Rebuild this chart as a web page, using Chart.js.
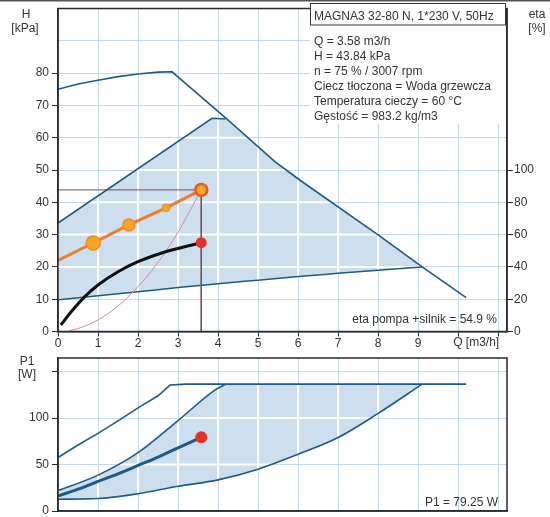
<!DOCTYPE html>
<html><head><meta charset="utf-8">
<script src="https://cdn.jsdelivr.net/npm/chart.js@4"></script>
<style>
html,body{margin:0;padding:0;background:#fff;}
#wrap{position:relative;width:550px;height:517px;overflow:hidden;background:#fff;}
#c1{position:absolute;left:0;top:0;}
#c2{position:absolute;left:0;top:352px;}
</style></head><body>
<div id="wrap"><canvas id="c1" width="550" height="352"></canvas><canvas id="c2" width="550" height="165"></canvas></div>
<script>
// ---------- DATA ----------
// Top chart: head H [kPa] versus flow Q [m3/h]
const hMaxQ   = [0, 0.5, 1, 1.5, 2, 2.5, 2.85, 4.18, 5.42, 6.04, 8, 9.1, 10.2];
const hMaxH   = [75, 76.6, 77.8, 78.9, 79.7, 80.3, 80.4, 66.2, 52.6, 46.9, 29.9, 20, 10.5];
const hMinQ   = [0, 1, 2, 3, 4, 5, 6, 7, 8, 9.1];
const hMinH   = [9.8, 11.1, 12.3, 13.6, 14.8, 15.9, 17, 18, 19, 20];
const hAreaQ  = [0, 3.85, 4.18, 5.42, 6.04, 8, 9.1];
const hAreaH  = [33.6, 66, 65.8, 52.6, 46.9, 29.9, 20];
const hLeftQ  = [0, 3.85, 4.18];
const hLeftH  = [33.6, 66, 65.8];
const etaQ    = [0, 0.88, 1.77, 2.7, 3.58];
const etaH    = [22, 27.4, 33, 38.3, 43.84];
const curveQ  = [0.07, 0.33, 0.67, 1, 1.5, 2, 2.67, 3, 3.42, 3.58];
const curveH  = [2.0, 6.1, 10.8, 14.4, 18.5, 21.6, 24.6, 25.7, 27.0, 27.4];
const sysQ    = [0.27, 0.5, 1, 1.5, 2, 2.5, 3, 3.58];
const sysH    = [0.2, 0.9, 3.6, 7.9, 13.9, 21.4, 30.8, 43.84];
const dutyQ   = [0, 3.58, 3.58];
const dutyH   = [43.84, 43.84, 0];
const pointQ  = [3.58];
const pointH  = [27.5];
// Bottom chart: power P1 [W] versus flow Q [m3/h]
const pMaxQ   = [0, 0.5, 1, 1.5, 2, 2.5, 2.8, 3.2, 10.2];
const pMaxP   = [57.6, 71, 83.5, 97, 111, 124, 135.5, 136.5, 136.5];
const pSecQ   = [0, 1, 2, 3, 3.92, 4.2];
const pSecP   = [22, 38.6, 62.8, 97.3, 130, 136.5];
const pAreaQ  = [0, 1, 2, 3, 3.92, 4.2, 9.1];
const pAreaP  = [22, 38.6, 62.8, 97.3, 130, 136.5, 136.5];
const pMinQ   = [0, 1, 2, 3, 4, 5, 6, 7, 8, 9.1];
const pMinP   = [12.7, 13.4, 18.6, 26.6, 33.5, 45, 61, 79, 105, 136.5];
const pCurQ   = [0, 0.5, 1, 1.5, 2, 2.5, 3, 3.58];
const pCurP   = [16.2, 23.5, 31.8, 40, 49, 58, 68, 79.25];
const pPointQ = [3.58];
const pPointP = [79.25];
// Tick labels
const xTickLabels   = ['0','1','2','3','4','5','6','7','8','9'];
const xAxisName     = 'Q [m3/h]';
const hTickLabels   = ['0','10','20','30','40','50','60','70','80'];
const etaTickLabels = ['0','20','40','60','80','100'];
const pTickLabels   = ['0','50','100'];
// Texts
const infoTitle = 'MAGNA3 32-80 N, 1*230 V, 50Hz';
const infoLines = ['Q = 3.58 m3/h','H = 43.84 kPa','n = 75 % / 3007 rpm','Ciecz tłoczona = Woda grzewcza','Temperatura cieczy = 60 °C','Gęstość = 983.2 kg/m3'];
const etaNote = 'eta pompa +silnik = 54.9 %';
const p1Note  = 'P1 = 79.25 W';

// ---------- STYLE ----------
const FONT = '"Liberation Sans", Arial, sans-serif';
const DARK = '#1e5a87';
const SHADE = '#cddfee';
const GRID = '#c3daec';
const TXT = '#333333';
const AX = '#2b2b2b';
const zip = (xs, ys) => xs.map((x, i) => ({x, y: ys[i]}));

Chart.defaults.font.family = FONT;
Chart.defaults.font.size = 12;
Chart.defaults.color = TXT;

const whiteGrid = {
  id: 'whiteGrid',
  afterDatasetDraw(chart, args, opts) {
    if (!opts || opts.shade === undefined || args.index !== opts.shade) return;
    const top = chart.getDatasetMeta(opts.shade).data;
    const base = chart.getDatasetMeta(opts.base).data;
    const ctx = chart.ctx, ca = chart.chartArea;
    ctx.save();
    ctx.beginPath();
    top.forEach((p, i) => i ? ctx.lineTo(p.x, p.y) : ctx.moveTo(p.x, p.y));
    for (let i = base.length - 1; i >= 0; i--) ctx.lineTo(base[i].x, base[i].y);
    ctx.closePath();
    ctx.clip();
    ctx.strokeStyle = '#ffffff';
    ctx.lineWidth = 2;
    const xs = chart.scales.x, ys = chart.scales.y;
    xs.ticks.forEach(t => { const px = xs.getPixelForValue(t.value); ctx.beginPath(); ctx.moveTo(px, ca.top); ctx.lineTo(px, ca.bottom); ctx.stroke(); });
    ys.ticks.forEach(t => { const py = ys.getPixelForValue(t.value); ctx.beginPath(); ctx.moveTo(ca.left, py); ctx.lineTo(ca.right, py); ctx.stroke(); });
    ctx.restore();
  }
};
Chart.register(whiteGrid);

function lineDs(data, color, width, order, extra) {
  return Object.assign({data, borderColor: color, borderWidth: width, pointRadius: 0, fill: false, order, tension: 0}, extra || {});
}
function zeroPad(s) { s.paddingTop = 0; s.paddingBottom = 0; s.paddingLeft = 0; s.paddingRight = 0; }

// ---------- TOP CHART ----------
const topText = {
  id: 'topText',
  beforeDatasetsDraw(chart) {
    const ctx = chart.ctx, ca = chart.chartArea;
    ctx.save();
    ctx.fillStyle = '#fff';
    ctx.fillRect(310, ca.top, ca.right - 311, 124 - ca.top);
    ctx.restore();
  },
  afterDraw(chart) {
    const ctx = chart.ctx, ca = chart.chartArea;
    ctx.save();
    // frame
    ctx.strokeStyle = AX; ctx.lineWidth = 1.5;
    ctx.strokeRect(ca.left, ca.top, ca.right - ca.left, ca.bottom - ca.top);
    ctx.strokeStyle = '#555'; ctx.lineWidth = 1.5;
    ctx.beginPath(); ctx.moveTo(0, 0.75); ctx.lineTo(550, 0.75); ctx.stroke();
    // info box
    ctx.fillStyle = '#fff'; ctx.fillRect(310, 3, 195, 22);
    ctx.strokeStyle = '#333'; ctx.lineWidth = 1;
    ctx.strokeRect(310.5, 3.5, 195, 21.5);
    ctx.fillStyle = TXT;
    ctx.font = '12px ' + FONT;
    ctx.textBaseline = 'middle'; ctx.textAlign = 'left';
    ctx.fillText(infoTitle, 314, 17);
    const ly = [42, 57, 72, 87, 102, 117];
    infoLines.forEach((t, i) => ctx.fillText(t, 314, ly[i]));
    // axis titles
    ctx.textAlign = 'center';
    ctx.fillText('H', 26, 15); ctx.fillText('[kPa]', 25, 29);
    ctx.fillText('eta', 537, 15); ctx.fillText('[%]', 537, 29);
    // x name
    const xs = chart.scales.x;
    ctx.textAlign = 'left';
    ctx.fillText(xAxisName, xs.getPixelForValue(10) - 5, 343);
    // eta note
    ctx.textAlign = 'right';
    ctx.fillText(etaNote, 497, 320);
    ctx.restore();
  }
};

new Chart(document.getElementById('c1'), {
  type: 'line',
  data: { datasets: [
    lineDs(zip(hMinQ, hMinH), DARK, 1.5, 9, {cubicInterpolationMode: 'monotone'}),
    lineDs(zip(hAreaQ, hAreaH), 'rgba(0,0,0,0)', 0, 10, {fill: 0, backgroundColor: SHADE}),
    lineDs(zip(hMaxQ, hMaxH), DARK, 1.6, 8),
    lineDs(zip(hLeftQ, hLeftH), DARK, 1.6, 8),
    lineDs(zip(sysQ, sysH), '#d48a9c', 1, 7, {cubicInterpolationMode: 'monotone'}),
    lineDs(zip(dutyQ, dutyH), '#6e4f55', 1, 6),
    lineDs(zip(curveQ, curveH), '#111111', 3, 5, {cubicInterpolationMode: 'monotone'}),
    lineDs(zip(etaQ, etaH), '#ef7b2c', 3, 4, {
      pointRadius: [0, 7, 6, 4, 6], pointBackgroundColor: '#f6a623',
      pointBorderColor: ['#ef7b2c','#ef8a2c','#ef8a2c','#ef8a2c','#e8562a'], pointBorderWidth: [1,1.5,1.5,1,2.5]}),
    lineDs(zip(pointQ, pointH), '#e8302a', 0, 3, {pointRadius: 5.5, pointBackgroundColor: '#e8302a', pointBorderWidth: 0, showLine: false})
  ]},
  options: {
    responsive: false, animation: false, events: [],
    layout: { padding: { top: 8.5, left: 0, right: 0, bottom: 0 } },
    plugins: { legend: {display: false}, tooltip: {enabled: false}, whiteGrid: {shade: 1, base: 0} },
    scales: {
      x: { type: 'linear', min: 0, max: 11.22,
        ticks: { stepSize: 1, includeBounds: false, padding: 0, color: TXT, font: {size: 12},
          callback: v => (v < xTickLabels.length ? xTickLabels[v] : '') },
        grid: { color: GRID, lineWidth: 1, tickLength: 5, tickColor: AX },
        border: { color: AX, width: 1.5 },
        afterFit: s => { s.height = 20.5; zeroPad(s); } },
      y: { type: 'linear', position: 'left', min: 0, max: 100,
        ticks: { stepSize: 10, includeBounds: false, padding: 3, color: TXT, font: {size: 12},
          callback: v => (hTickLabels.includes(String(v)) ? String(v) : '') },
        grid: { color: GRID, lineWidth: 1, tickLength: 6,
          tickColor: c => (c.tick && c.tick.value > 80 ? 'rgba(0,0,0,0)' : AX) },
        border: { color: AX, width: 1.5 },
        afterFit: s => { s.width = 58; zeroPad(s); } },
      eta: { type: 'linear', position: 'right', min: 0, max: 200,
        ticks: { stepSize: 20, includeBounds: false, padding: 1, color: TXT, font: {size: 12},
          callback: v => (etaTickLabels.includes(String(v)) ? String(v) : '') },
        grid: { drawOnChartArea: false, tickLength: 6,
          tickColor: c => (c.tick && c.tick.value > 100 ? 'rgba(0,0,0,0)' : AX) },
        border: { color: AX, width: 1.5 },
        afterFit: s => { s.width = 43; zeroPad(s); } }
    }
  },
  plugins: [topText]
});

// ---------- BOTTOM CHART ----------
const botText = {
  id: 'botText',
  afterDraw(chart) {
    const ctx = chart.ctx, ca = chart.chartArea;
    ctx.save();
    ctx.strokeStyle = AX; ctx.lineWidth = 1.5;
    ctx.strokeRect(ca.left, ca.top, ca.right - ca.left, ca.bottom - ca.top);
    ctx.fillStyle = TXT; ctx.font = '12px ' + FONT;
    ctx.textBaseline = 'middle'; ctx.textAlign = 'center';
    ctx.fillText('P1', 27, 10); ctx.fillText('[W]', 27, 23);
    ctx.textAlign = 'right';
    ctx.fillText(p1Note, 498, 151);
    ctx.restore();
  }
};

new Chart(document.getElementById('c2'), {
  type: 'line',
  data: { datasets: [
    lineDs(zip(pMinQ, pMinP), DARK, 1.6, 9, {cubicInterpolationMode: 'monotone'}),
    lineDs(zip(pAreaQ, pAreaP), 'rgba(0,0,0,0)', 0, 10, {fill: 0, backgroundColor: SHADE, cubicInterpolationMode: 'monotone'}),
    lineDs(zip(pMaxQ, pMaxP), DARK, 1.6, 8),
    lineDs(zip(pSecQ, pSecP), DARK, 1.6, 8, {cubicInterpolationMode: 'monotone'}),
    lineDs(zip(pCurQ, pCurP), DARK, 3, 5, {cubicInterpolationMode: 'monotone'}),
    lineDs(zip(pPointQ, pPointP), '#e8302a', 0, 3, {pointRadius: 6, pointBackgroundColor: '#e8302a', pointBorderWidth: 0, showLine: false})
  ]},
  options: {
    responsive: false, animation: false, events: [],
    layout: { padding: { top: 3, left: 0, right: 43, bottom: 0 } },
    plugins: { legend: {display: false}, tooltip: {enabled: false}, whiteGrid: {shade: 1, base: 0} },
    scales: {
      x: { type: 'linear', min: 0, max: 11.22,
        ticks: { stepSize: 1, includeBounds: false, display: false },
        grid: { color: GRID, lineWidth: 1, drawTicks: false },
        border: { color: AX, width: 1.5 },
        afterFit: s => { s.height = 3; zeroPad(s); } },
      y: { type: 'linear', position: 'left', min: 0, max: 164.6,
        ticks: { stepSize: 50, includeBounds: false, padding: 3, color: TXT, font: {size: 12},
          callback: v => (pTickLabels.includes(String(v)) ? String(v) : '') },
        grid: { color: GRID, lineWidth: 1, tickLength: 6, tickColor: AX },
        border: { color: AX, width: 1.5 },
        afterFit: s => { s.width = 58; zeroPad(s); } }
    }
  },
  plugins: [botText]
});
</script>
</body></html>
